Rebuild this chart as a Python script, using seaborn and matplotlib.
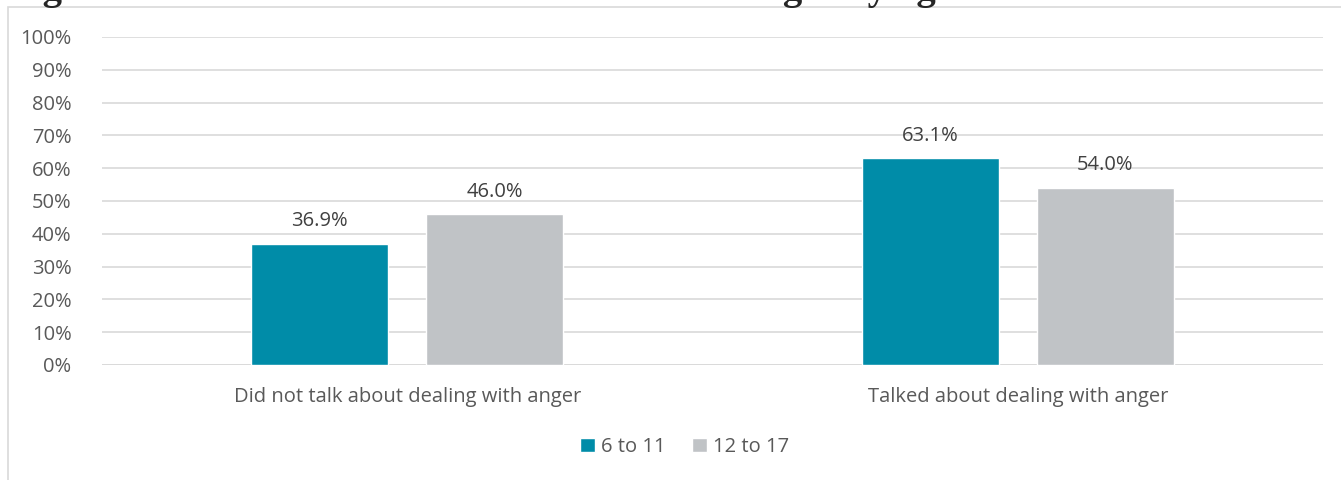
import numpy as np
import pandas as pd
import matplotlib.pyplot as plt
import seaborn as sns
from matplotlib.patches import Rectangle

plt.switch_backend("Agg")

# --- data ---
categories = ["Did not talk about dealing with anger", "Talked about dealing with anger"]
age_groups = ["6 to 11", "12 to 17"]
values_6_11 = [36.9, 63.1]
values_12_17 = [46.0, 54.0]
tick_labels = [f"{v}%" for v in range(0, 101, 10)]

df = pd.DataFrame({
    "Category": categories * 2,
    "Age": [age_groups[0]] * 2 + [age_groups[1]] * 2,
    "Percent": values_6_11 + values_12_17,
})

sns.set_style("white")
plt.rcParams["font.family"] = ["Open Sans", "DejaVu Sans"]
FS = 14.5

fig = plt.figure(figsize=(13.41, 4.8), dpi=100)
ax = fig.add_axes([102 / 1341, 1 - 365 / 480, 1221 / 1341, 328 / 480])

palette = {"6 to 11": "#008CA8", "12 to 17": "#C0C3C6"}
sns.barplot(data=df, x="Category", y="Percent", hue="Age", palette=palette,
            width=0.573, gap=0.215, saturation=1, ax=ax, legend=True)

# value labels above the bars
for cont in ax.containers:
    ax.bar_label(cont, labels=[f"{v:.1f}%" for v in cont.datavalues],
                 padding=9, fontsize=FS, color="#404040")

ax.set_xlim(-0.5, 1.5)
ax.set_ylim(0, 100)
ax.set_yticks(range(0, 101, 10))
ax.set_yticklabels(tick_labels, fontsize=FS, color="#595959")
ax.tick_params(axis="x", labelsize=FS, colors="#595959", pad=16, length=0)
ax.tick_params(axis="y", length=0, pad=22)
ax.yaxis.grid(True, color="#D9D9D9", linewidth=1.2)
ax.set_axisbelow(True)
for s in ax.spines.values():
    s.set_visible(False)
ax.axhline(0, color="#D9D9D9", linewidth=1.2, zorder=0)
ax.set_xlabel("")
ax.set_ylabel("")

leg = ax.legend(loc="center", bbox_to_anchor=(0.477, -0.25), ncol=2, frameon=False,
                fontsize=FS, handlelength=0.75, handleheight=0.75,
                handletextpad=0.3, columnspacing=1.3)
for t in leg.get_texts():
    t.set_color("#595959")

# chart border
fig.add_artist(Rectangle((8 / 1341, -0.05), 1.1, 1 - 7 / 480 + 0.05,
                         transform=fig.transFigure, fill=False,
                         edgecolor="#D9D9D9", linewidth=1.2))

# report title, cut off by the top edge as in the source image
fig.text(0.006, 1.002, "Figure 35: Whether the doctor talked about anger by age",
         fontsize=28, fontweight="bold", family=["Liberation Serif", "DejaVu Serif"],
         va="baseline", ha="left")

fig.savefig("out.png", dpi=100)
